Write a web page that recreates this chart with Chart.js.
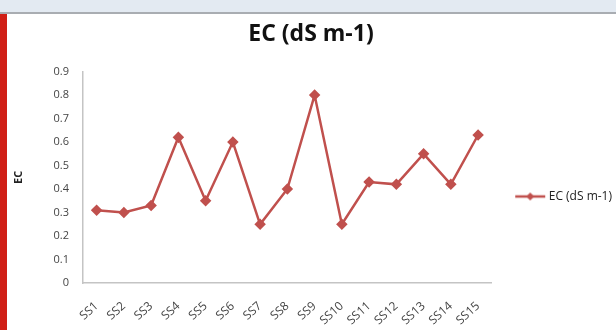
<!DOCTYPE html>
<html>
<head>
<meta charset="utf-8">
<script src="https://cdn.jsdelivr.net/npm/chart.js@4"></script>
<style>
  html, body { margin: 0; padding: 0; background: #fff; }
  #wrap { position: relative; width: 616px; height: 330px; overflow: hidden; }
  .topbar { position: absolute; left: 0; top: 0; width: 616px; height: 12px; background: #e3eaf2; border-bottom: 2px solid #a9adb2; }
  .redbar { position: absolute; left: 0; top: 14px; width: 7px; height: 316px; background: #d01f16; }
  canvas { position: absolute; left: 0; top: 0; }
</style>
</head>
<body>
<div id="wrap">
  <div class="topbar"></div>
  <div class="redbar"></div>
  <canvas id="ec_chart" width="616" height="330"></canvas>
</div>
<script>
// DATA
const sites = ['SS1', 'SS2', 'SS3', 'SS4', 'SS5', 'SS6', 'SS7', 'SS8', 'SS9', 'SS10', 'SS11', 'SS12', 'SS13', 'SS14', 'SS15'];
const ec_values = [0.31, 0.30, 0.33, 0.62, 0.35, 0.60, 0.25, 0.40, 0.80, 0.25, 0.43, 0.42, 0.55, 0.42, 0.63];
const y_ticks = ['0', '0.1', '0.2', '0.3', '0.4', '0.5', '0.6', '0.7', '0.8', '0.9'];

const red = '#c0504d';
const font_family = '"Open Sans", "Noto Sans", sans-serif';

// legend icon: short line with a diamond, drawn on the right part of a wider
// transparent canvas so the legend box leaves a gap next to the plot
const icon = document.createElement('canvas');
icon.width = 56;
icon.height = 10;
const ictx = icon.getContext('2d');
ictx.strokeStyle = red;
ictx.lineWidth = 2.5;
ictx.beginPath();
ictx.moveTo(25, 5);
ictx.lineTo(55, 5);
ictx.stroke();
ictx.fillStyle = red;
ictx.beginPath();
ictx.moveTo(40, 1);
ictx.lineTo(44, 5);
ictx.lineTo(40, 9);
ictx.lineTo(36, 5);
ictx.closePath();
ictx.fill();

const ctx = document.getElementById('ec_chart').getContext('2d');

new Chart(ctx, {
  type: 'line',
  data: {
    labels: sites,
    datasets: [{
      label: 'EC (dS m-1)',
      data: ec_values,
      borderColor: red,
      backgroundColor: red,
      borderWidth: 2.5,
      pointStyle: 'rectRot',
      pointRadius: 4,
      pointHoverRadius: 4,
      pointBackgroundColor: red,
      pointBorderColor: red,
      fill: false,
      tension: 0
    }]
  },
  options: {
    responsive: false,
    animation: false,
    layout: { padding: { left: 0, right: -6, top: 21, bottom: 0 } },
    plugins: {
      title: {
        display: true,
        text: 'EC (dS m-1)',
        color: '#111',
        font: { family: font_family, size: 23, weight: 'bold' },
        padding: { top: 0, bottom: 23 }
      },
      legend: {
        position: 'right',
        // empty legend title only pushes the entry down a little
        title: { display: true, text: '', padding: 15, font: { size: 10 } },
        labels: {
          usePointStyle: true,
          pointStyle: icon,
          pointStyleWidth: 49,
          color: '#222',
          font: { family: font_family, size: 12 },
          padding: 2
        }
      },
      tooltip: { enabled: false }
    },
    scales: {
      x: {
        offset: true,
        grid: { display: false, drawTicks: false },
        border: { display: true, color: '#c4c4c4', width: 1.5 },
        ticks: {
          color: '#444',
          font: { family: font_family, size: 12 },
          maxRotation: 42,
          minRotation: 42,
          padding: 16,
          autoSkip: false
        },
        afterFit: (scale) => { scale.height = 47; }
      },
      y: {
        min: 0,
        max: 0.9,
        grid: { display: false, drawTicks: false },
        border: { display: true, color: '#c4c4c4', width: 1.5 },
        ticks: {
          stepSize: 0.1,
          color: '#444',
          font: { family: font_family, size: 11 },
          padding: 14,
          callback: (value, index) => y_ticks[index]
        },
        title: {
          display: true,
          text: 'EC',
          color: '#222',
          font: { family: font_family, size: 11, weight: 'bold' },
          padding: { top: 12, bottom: 0 }
        },
        afterFit: (scale) => { scale.width = 83; }
      }
    }
  }
});
</script>
</body>
</html>
